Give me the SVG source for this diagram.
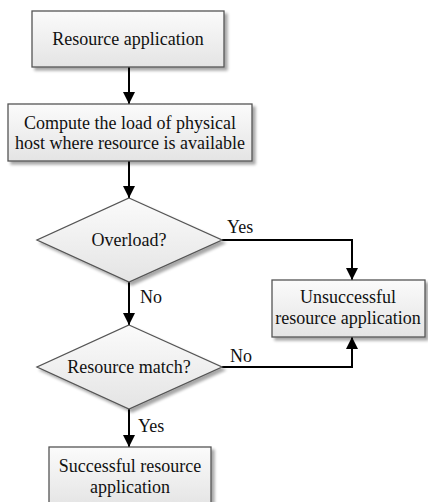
<svg xmlns="http://www.w3.org/2000/svg" width="428" height="502" viewBox="0 0 428 502">
  <defs>
    <linearGradient id="fillGrad" x1="0" y1="0" x2="0" y2="1">
      <stop offset="0" stop-color="#fbfbfb"/>
      <stop offset="1" stop-color="#e4e4e4"/>
    </linearGradient>
    <filter id="shadow" x="-10%" y="-10%" width="125%" height="130%">
      <feGaussianBlur in="SourceAlpha" stdDeviation="1.5"/>
      <feOffset dx="2.5" dy="2.5" result="b"/>
      <feComponentTransfer><feFuncA type="linear" slope="0.35"/></feComponentTransfer>
      <feMerge><feMergeNode/><feMergeNode in="SourceGraphic"/></feMerge>
    </filter>
    <marker id="arrow" viewBox="0 0 10 10" refX="10" refY="5" markerWidth="12" markerHeight="12" markerUnits="userSpaceOnUse" orient="auto">
      <path d="M0,0 L10,5 L0,10 z" fill="#000"/>
    </marker>
  </defs>
  <style>
    .shape { fill: url(#fillGrad); stroke: #555; stroke-width: 1.3; filter: url(#shadow); }
    text { font-family: 'Liberation Serif', 'DejaVu Serif', 'Times New Roman', serif; font-size: 18px; fill: #111; }
    .label { text-anchor: middle; }
    .conn { fill: none; stroke: #000; stroke-width: 2; marker-end: url(#arrow); }
  </style>
  <rect width="428" height="502" fill="#fff"/>

  <g id="connectors">
    <path class="conn" d="M129,67 L129,104"/>
    <path class="conn" d="M129,161 L129,198"/>
    <path class="conn" d="M129,282 L129,325"/>
    <path class="conn" d="M129,409 L129,447"/>
    <path class="conn" d="M222,240 L352,240 L352,280"/>
    <path class="conn" d="M222,367 L352,367 L352,337"/>
    <text x="227" y="233">Yes</text>
    <text x="140" y="303">No</text>
    <text x="230" y="362">No</text>
    <text x="138" y="432">Yes</text>
  </g>

  <g id="resource-application">
    <rect class="shape" x="32" y="11" width="192" height="56"/>
    <text class="label" x="128" y="45">Resource application</text>
  </g>

  <g id="compute-load">
    <rect class="shape" x="8" y="104" width="244" height="57"/>
    <text class="label" x="130" y="129">Compute the load of physical</text>
    <text class="label" x="130" y="149">host where resource is available</text>
  </g>

  <g id="overload">
    <polygon class="shape" points="129,198 222,240 129,282 37,240"/>
    <text class="label" x="129" y="246">Overload?</text>
  </g>

  <g id="unsuccessful">
    <rect class="shape" x="272" y="280" width="153" height="57"/>
    <text class="label" x="348" y="303">Unsuccessful</text>
    <text class="label" x="348" y="324">resource application</text>
  </g>

  <g id="resource-match">
    <polygon class="shape" points="129,325 222,367 129,409 37,367"/>
    <text class="label" x="129" y="373">Resource match?</text>
  </g>

  <g id="successful">
    <rect class="shape" x="49" y="447" width="162" height="60"/>
    <text class="label" x="130" y="472">Successful resource</text>
    <text class="label" x="130" y="493">application</text>
  </g>
</svg>
